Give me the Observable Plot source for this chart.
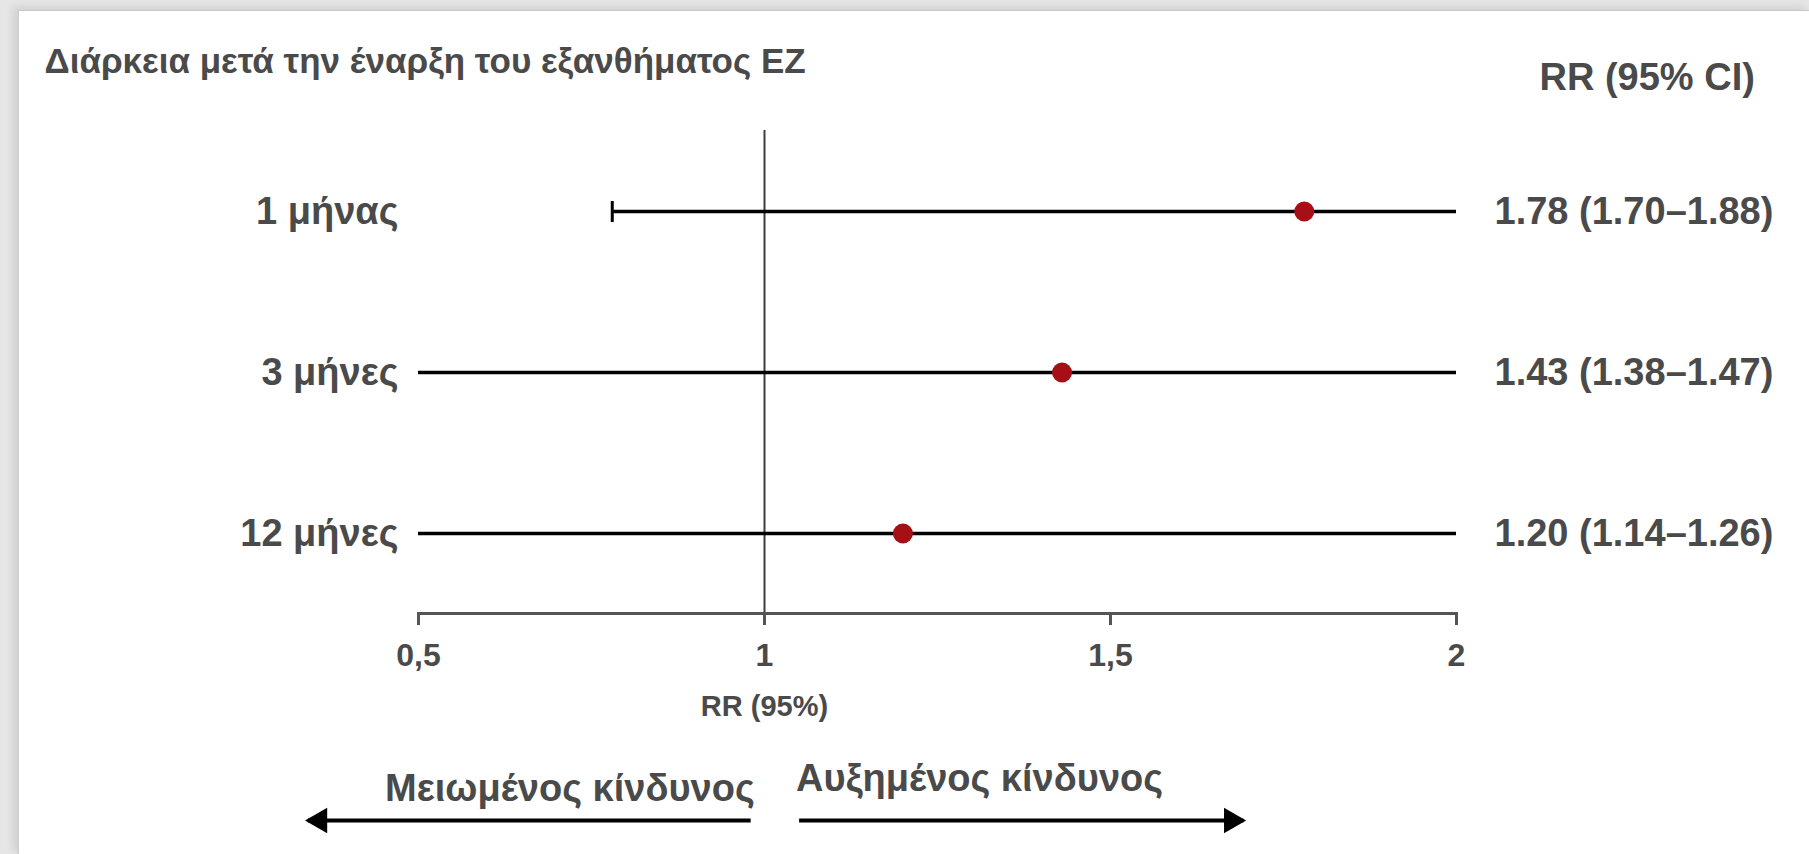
<!DOCTYPE html>
<html lang="el">
<head>
<meta charset="utf-8">
<title>Διάρκεια μετά την έναρξη του εξανθήματος ΕΖ</title>
<script src="https://cdn.jsdelivr.net/npm/d3@7"></script>
<script src="https://cdn.jsdelivr.net/npm/@observablehq/plot@0.6"></script>
<style>
  html, body { margin: 0; padding: 0; width: 1809px; height: 854px; overflow: hidden; background: #e6e6e6; }
  #panel {
    position: absolute; left: 18px; top: 10px; width: 1791px; height: 844px;
    background: #fff; border-left: 1px solid #cdcdcd; border-top: 1px solid #c8c8c8;
    box-shadow: -5px -3px 8px rgba(0,0,0,0.10);
  }
  .layer { position: absolute; left: 0; }
</style>
</head>
<body>
<div id="panel"></div>
<div id="chart" class="layer" style="top:0"></div>
<div id="direction" class="layer" style="top:720px"></div>
<script>
// Relative risk of the outcome by time since rash onset
const title = "Διάρκεια μετά την έναρξη του εξανθήματος ΕΖ";
const valueHeader = "RR (95% CI)";
const axisTitle = "RR (95%)";
const periods = ["1 μήνας", "3 μήνες", "12 μήνες"];
const rr = [1.78, 1.43, 1.20];
const ciLow = [1.70, 1.38, 1.14];
const ciHigh = [1.88, 1.47, 1.26];
// horizontal bar drawn on each row; ends on the axis limits are clipped there
const barLow = [0.78, 0.5, 0.5];
const barHigh = [2, 2, 2];
const xTicks = [0.5, 1, 1.5, 2];
const directionLabels = ["Μειωμένος κίνδυνος", "Αυξημένος κίνδυνος"];
const directionFrom = [0.98, 1.05];
const directionTo = [0.34, 1.692];

const FONT = "'Liberation Sans', Arial, Helvetica, sans-serif";
const TEXT = "#4a4a4a";
const fmt = v => v.toFixed(2);

// vertical end cap for a bar, drawn as a dot symbol
const capSymbol = {
  draw(context, size) {
    const r = Math.sqrt(size / Math.PI);
    context.moveTo(0, -r);
    context.lineTo(0, r);
  }
};

const rows = periods.map((period, i) => ({
  period, rr: rr[i], lo: ciLow[i], hi: ciHigh[i], barLo: barLow[i], barHi: barHigh[i],
  label: `${fmt(rr[i])} (${fmt(ciLow[i])}–${fmt(ciHigh[i])})`
}));

const xScale = {domain: [0.5, 2], label: null};
const W = 1809, ML = 418, MR = 353;

const chart = Plot.plot({
  width: W, height: 854,
  marginLeft: ML, marginRight: MR, marginTop: 130, marginBottom: 241,
  style: {background: "transparent", fontFamily: FONT, color: TEXT, overflow: "visible"},
  x: xScale,
  y: {type: "point", domain: periods, padding: 0.5, label: null},
  marks: [
    Plot.ruleX([1], {stroke: "#3c3c3c", strokeWidth: 2}),
    Plot.frame({anchor: "bottom", stroke: "#555", strokeWidth: 3}),
    Plot.ruleY(rows, {y: "period", x1: "barLo", x2: "barHi", stroke: "#000", strokeWidth: 3.5}),
    Plot.dot(rows.filter(d => d.barLo > xScale.domain[0]), {
      x: "barLo", y: "period", symbol: capSymbol, r: 10.5, stroke: "#000", strokeWidth: 3
    }),
    Plot.dot(rows, {x: "rr", y: "period", r: 10, fill: "#a50f15"}),
    Plot.axisY({tickSize: 0, tickPadding: 20, fontSize: 38, fontWeight: "bold", fill: TEXT, label: null}),
    Plot.axisX({
      ticks: xTicks, tickFormat: d => String(d).replace(".", ","),
      tickSize: 12, tickPadding: 18, stroke: "#555", strokeWidth: 3,
      fontSize: 32, fontWeight: "bold", fill: TEXT, label: null
    }),
    Plot.text(rows, {
      y: "period", text: "label", frameAnchor: "right", textAnchor: "start", dx: 38,
      fontSize: 38, fontWeight: "bold", fill: TEXT
    }),
    Plot.text([valueHeader], {
      frameAnchor: "top-right", lineAnchor: "middle", textAnchor: "start", dx: 83, dy: -53,
      fontSize: 38, fontWeight: "bold", fill: TEXT
    }),
    Plot.text([title], {
      frameAnchor: "top-left", lineAnchor: "middle", textAnchor: "start", dx: -374, dy: -69,
      fontSize: 35, fontWeight: "bold", fill: TEXT
    }),
    Plot.text([axisTitle], {
      x: () => 1, frameAnchor: "bottom", lineAnchor: "middle", dy: 93,
      fontSize: 29, fontWeight: "bold", fill: TEXT
    })
  ]
});
document.getElementById("chart").append(chart);

// Direction arrows under the axis, sharing the same x scale
const directions = directionLabels.map((label, i) => ({
  label, from: directionFrom[i], to: directionTo[i], side: directionTo[i] < directionFrom[i] ? "left" : "right"
}));
const left = directions.filter(d => d.side === "left");
const right = directions.filter(d => d.side === "right");

const direction = Plot.plot({
  width: W, height: 200,
  marginLeft: ML, marginRight: MR, marginTop: 0, marginBottom: 0,
  style: {background: "transparent", fontFamily: FONT, color: TEXT, overflow: "visible"},
  x: {...xScale, axis: null},
  y: {domain: [-1, 1], axis: null},
  marks: [
    Plot.link(directions, {x1: "from", x2: "to", y1: 0, y2: 0, stroke: "#000", strokeWidth: 4}),
    Plot.dot(left, {x: "to", y: 0, symbol: "triangle", rotate: -90, r: 9.5, fill: "#000", dx: 12}),
    Plot.dot(right, {x: "to", y: 0, symbol: "triangle", rotate: 90, r: 9.5, fill: "#000", dx: -12}),
    Plot.text(left, {x: "from", y: 0, text: "label", textAnchor: "end", dx: 4, dy: -32,
      fontSize: 38, fontWeight: "bold", fill: TEXT}),
    Plot.text(right, {x: "from", y: 0, text: "label", textAnchor: "start", dx: -3, dy: -42,
      fontSize: 38, fontWeight: "bold", fill: TEXT})
  ]
});
document.getElementById("direction").append(direction);
</script>
</body>
</html>
